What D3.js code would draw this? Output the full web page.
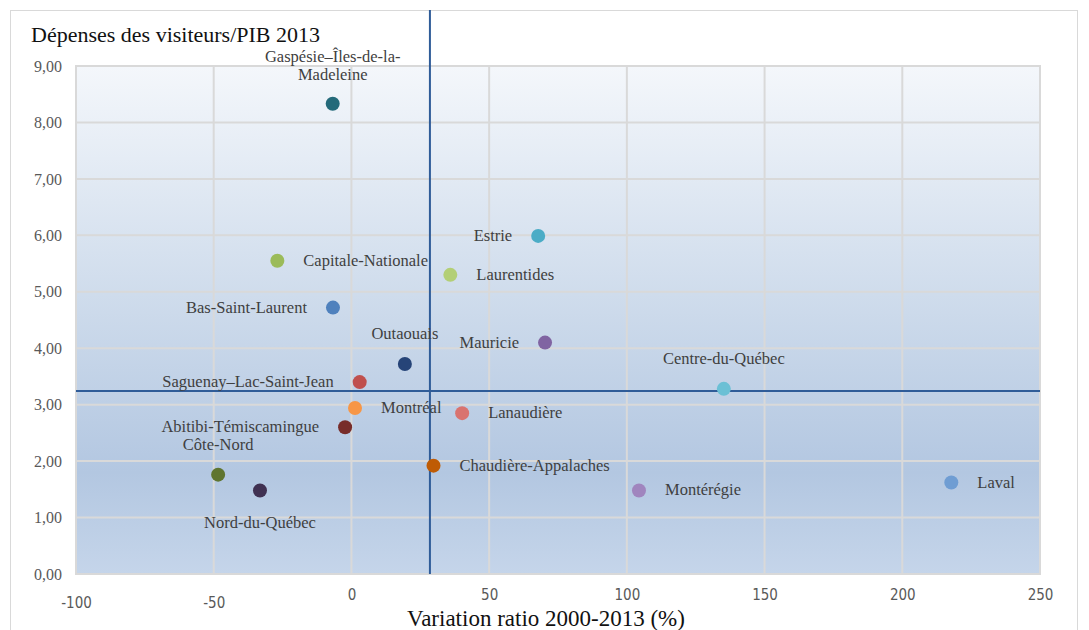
<!DOCTYPE html>
<meta charset="utf-8">
<script src="https://d3js.org/d3.v7.min.js"></script>
<style>
  body { margin: 0; background: #fff; }
  .label { font-family: "Liberation Serif", serif; font-size: 16.5px; fill: #3f3f3f; }
  .ytick { font-family: "Liberation Serif", serif; font-size: 16px; fill: #595959; }
  .xtick { font-family: "Liberation Sans Narrow", "DejaVu Sans Condensed", sans-serif; font-size: 15px; fill: #595959; }
</style>
<body></body>
<script>
  // regions, variation of ratio 2000-2013 (%), spend/GDP 2013
  let regions = ["Gaspésie–Îles-de-la-Madeleine", "Estrie", "Laurentides", "Capitale-Nationale",
    "Bas-Saint-Laurent", "Mauricie", "Outaouais", "Centre-du-Québec", "Saguenay–Lac-Saint-Jean",
    "Montréal", "Lanaudière", "Abitibi-Témiscamingue", "Côte-Nord", "Nord-du-Québec",
    "Chaudière-Appalaches", "Montérégie", "Laval"];
  let variation = [-6.8, 67.8, 35.9, -26.9, -6.7, 70.3, 19.4, 135.2, 3.0, 1.3, 40.2, -2.3, -48.4, -33.2, 29.8, 104.4, 217.8];
  let ratio = [8.33, 5.99, 5.30, 5.55, 4.72, 4.10, 3.72, 3.28, 3.40, 2.94, 2.85, 2.60, 1.76, 1.48, 1.92, 1.48, 1.62];
  let colors = ["#246a7a", "#4bacc6", "#b3cf76", "#9bbb59", "#4f81bd", "#8064a2", "#264478", "#6bc0d5",
    "#c0504d", "#f79646", "#d9736f", "#772c2a", "#5f7530", "#403152", "#bf5b04", "#a085be", "#6f9dd3"];
  let labelSide = ["above2", "left", "right", "right", "left", "left", "above", "above", "left",
    "right", "right", "left", "above", "below", "right", "right", "right"];

  let xTicks = [-100, -50, 0, 50, 100, 150, 200, 250];
  let yTicks = [0, 1, 2, 3, 4, 5, 6, 7, 8, 9];
  let refX = 28.5, refY = 3.24;

  let W = 1089, H = 630;
  let svg = d3.select("body").append("svg").attr("width", W).attr("height", H);

  svg.append("rect").attr("x", 10.5).attr("y", 10.5).attr("width", 1067).attr("height", 640)
    .attr("fill", "#fff").attr("stroke", "#d9d9d9");

  let x = d3.scaleLinear().domain([-100, 250]).range([76, 1040]);
  let y = d3.scaleLinear().domain([0, 9]).range([574, 66]);

  let grad = svg.append("defs").append("linearGradient").attr("id", "bg")
    .attr("x1", 0).attr("y1", 0).attr("x2", 0).attr("y2", 1);
  [[0, "#f4f7fb"], [0.45, "#cfdcec"], [0.8, "#b3c7e1"], [1, "#c5d5ea"]].forEach(s =>
    grad.append("stop").attr("offset", s[0]).attr("stop-color", s[1]));

  svg.append("rect").attr("x", x(-100)).attr("y", y(9))
    .attr("width", x(250) - x(-100)).attr("height", y(0) - y(9))
    .attr("fill", "url(#bg)");

  // grid
  svg.append("g").selectAll("line").data(yTicks.slice(1)).enter().append("line")
    .attr("x1", x(-100)).attr("x2", x(250))
    .attr("y1", d => y(d)).attr("y2", d => y(d))
    .attr("stroke", "#d9d9d9").attr("stroke-width", 2);
  svg.append("g").selectAll("line").data(xTicks.slice(1, -1)).enter().append("line")
    .attr("y1", y(0)).attr("y2", y(9))
    .attr("x1", d => x(d)).attr("x2", d => x(d))
    .attr("stroke", "#d9d9d9").attr("stroke-width", 2);
  svg.append("rect").attr("x", x(-100)).attr("y", y(9))
    .attr("width", x(250) - x(-100)).attr("height", y(0) - y(9))
    .attr("fill", "none").attr("stroke", "#d9d9d9").attr("stroke-width", 2);

  // reference lines
  svg.append("line").attr("x1", x(refX)).attr("x2", x(refX)).attr("y1", 10).attr("y2", y(0))
    .attr("stroke", "#2f5c98").attr("stroke-width", 2);
  svg.append("line").attr("x1", x(-100)).attr("x2", x(250)).attr("y1", y(refY)).attr("y2", y(refY))
    .attr("stroke", "#2f5c98").attr("stroke-width", 2);

  // axes
  let yAxis = svg.append("g").attr("transform", `translate(${x(-100)},0)`)
    .call(d3.axisLeft(y).tickValues(yTicks).tickSize(0).tickPadding(14)
      .tickFormat(d => d3.format(".2f")(d).replace(".", ",")));
  yAxis.select(".domain").remove();
  yAxis.selectAll("text").attr("class", "ytick").attr("font-family", null).attr("font-size", null).attr("fill", null);

  let xAxis = svg.append("g").attr("transform", `translate(0,${y(0)})`)
    .call(d3.axisBottom(x).tickValues(xTicks).tickSize(0).tickPadding(12).tickFormat(d => String(d)));
  xAxis.select(".domain").remove();
  xAxis.selectAll("text").attr("class", "xtick").attr("font-family", null).attr("font-size", null).attr("fill", null)
    .attr("dy", d => d < 0 ? "1.45em" : "0.95em");

  svg.append("text").attr("x", 31).attr("y", 42)
    .style("font-family", "Liberation Serif, serif").style("font-size", "22px").attr("fill", "#111")
    .text("Dépenses des visiteurs/PIB 2013");
  svg.append("text").attr("x", 546).attr("y", 626).attr("text-anchor", "middle")
    .style("font-family", "Liberation Serif, serif").style("font-size", "23px").attr("fill", "#111")
    .text("Variation ratio 2000-2013 (%)");

  let pts = regions.map((r, i) => ({ name: r, vx: variation[i], vy: ratio[i], c: colors[i], side: labelSide[i] }));

  let g = svg.selectAll(".pt").data(pts).enter().append("g")
    .attr("transform", d => `translate(${x(d.vx)},${y(d.vy)})`);
  g.append("circle").attr("r", 7).attr("fill", d => d.c);

  g.each(function (d) {
    let s = d3.select(this);
    if (d.side === "above2") {
      let t = s.append("text").attr("class", "label").attr("text-anchor", "middle");
      t.append("tspan").attr("x", 0).attr("y", -42).text("Gaspésie–Îles-de-la-");
      t.append("tspan").attr("x", 0).attr("y", -24).text("Madeleine");
    } else {
      let t = s.append("text").attr("class", "label").text(d.name);
      if (d.side === "left") t.attr("x", -26).attr("y", 5).attr("text-anchor", "end");
      if (d.side === "right") t.attr("x", 26).attr("y", 5);
      if (d.side === "above") t.attr("x", 0).attr("y", -25).attr("text-anchor", "middle");
      if (d.side === "below") t.attr("x", 0).attr("y", 38).attr("text-anchor", "middle");
    }
  });
</script>
